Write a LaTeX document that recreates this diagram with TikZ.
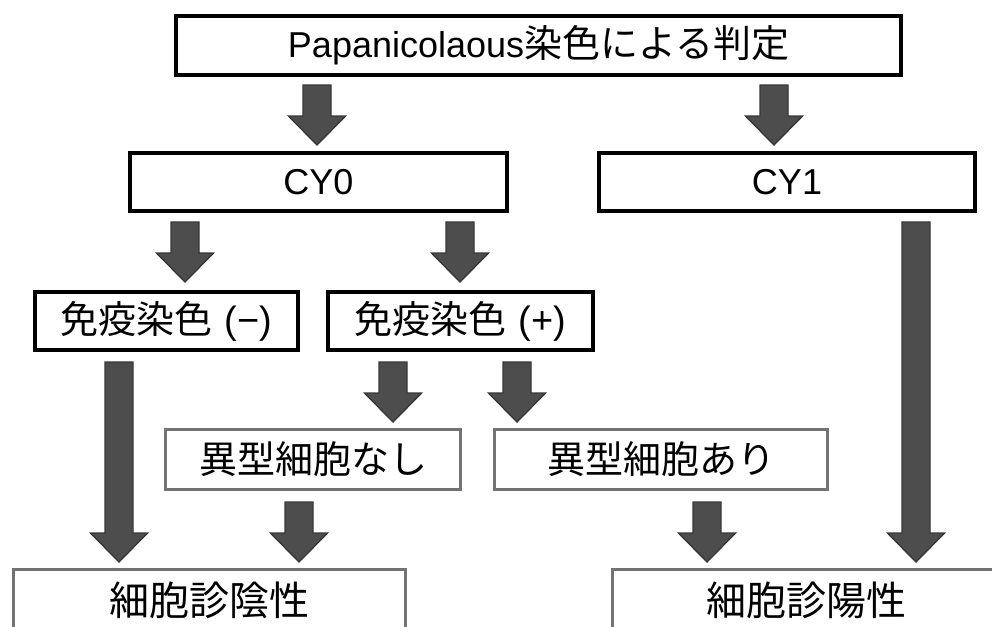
\documentclass[tikz,border=0pt]{standalone}
\usepackage{fontspec}
\setmainfont{Liberation Sans}
\newfontfamily\jp{Noto Sans CJK JP}
\usetikzlibrary{calc}
\definecolor{arrfill}{HTML}{4D4D4D}
\definecolor{arredge}{HTML}{383838}
\definecolor{graybox}{HTML}{737373}
\tikzset{
  blackbox/.style={draw=black, line width=3.8pt, fill=white, inner sep=0pt},
  greybox/.style={draw=graybox, line width=3pt, fill=white, inner sep=0pt},
  barrow/.style={fill=arrfill, draw=arredge, line width=1.4pt, line join=miter,
    to path={let \p1=(\tikztostart), \p2=(\tikztotarget) in
      (\x1-14pt,\y1) -- (\x1+14pt,\y1) -- (\x1+14pt,\y2+29pt) -- (\x1+28.5pt,\y2+29pt)
      -- (\x2,\y2) -- (\x1-28.5pt,\y2+29pt) -- (\x1-14pt,\y2+29pt) -- cycle}},
  lat/.style={font=\fontsize{36}{40}\selectfont},
}
\newcommand\J[1]{{\jp\fontsize{38}{40}\selectfont #1}}
\newcommand\JB[1]{{\jp\fontsize{40}{42}\selectfont #1}}
\newcommand\PR[1]{{\fontsize{38}{40}\selectfont #1}}
\begin{document}
\begin{tikzpicture}[x=1pt,y=-1pt]
\useasboundingbox (0,0) rectangle (992,626);
\clip (0,0) rectangle (992,626);
\fill[white] (0,0) rectangle (992,626);

% boxes
\node[blackbox, lat, minimum width=725pt, minimum height=59pt] (top) at (538.5,45.5)
  {Papanicolaous\J{染色による判定}};
\node[blackbox, lat, minimum width=377pt, minimum height=58pt] (cy0) at (318.5,182) {CY0};
\node[blackbox, lat, minimum width=376pt, minimum height=58pt] (cy1) at (787,182) {CY1};
\node[blackbox, lat, minimum width=263pt, minimum height=58pt] (neg) at (166.5,321)
  {\J{免疫染色}\hspace{12pt}\PR{(−)}};
\node[blackbox, lat, minimum width=265pt, minimum height=58pt] (pos) at (460.5,321)
  {\J{免疫染色}\hspace{12pt}\PR{(+)}};
\node[greybox, minimum width=295pt, minimum height=60pt] (nashi) at (313,459.5)
  {\J{異型細胞なし}};
\node[greybox, minimum width=333pt, minimum height=60pt] (ari) at (661,459.5)
  {\J{異型細胞あり}};
\node[greybox, minimum width=392pt, minimum height=62pt] (inei) at (209.5,600)
  {\JB{細胞診陰性}};
\node[greybox, minimum width=388pt, minimum height=62pt] (yosei) at (806.5,600)
  {\JB{細胞診陽性}};

% arrow end points
\coordinate (a1s) at (317,85);  \coordinate (a1e) at (317,145);
\coordinate (a2s) at (774,85);  \coordinate (a2e) at (774,145);
\coordinate (a3s) at (185,222); \coordinate (a3e) at (185,282);
\coordinate (a4s) at (460,222); \coordinate (a4e) at (460,282);
\coordinate (a5s) at (916,222); \coordinate (a5e) at (916,562);
\coordinate (a6s) at (119,362); \coordinate (a6e) at (119,562);
\coordinate (a7s) at (393,362); \coordinate (a7e) at (393,422);
\coordinate (a8s) at (517,362); \coordinate (a8e) at (517,422);
\coordinate (a9s) at (299,502); \coordinate (a9e) at (299,562);
\coordinate (a10s) at (707,502); \coordinate (a10e) at (707,562);

\foreach \i in {1,...,10} {\draw[barrow] (a\i s) to (a\i e);}
\end{tikzpicture}
\end{document}
